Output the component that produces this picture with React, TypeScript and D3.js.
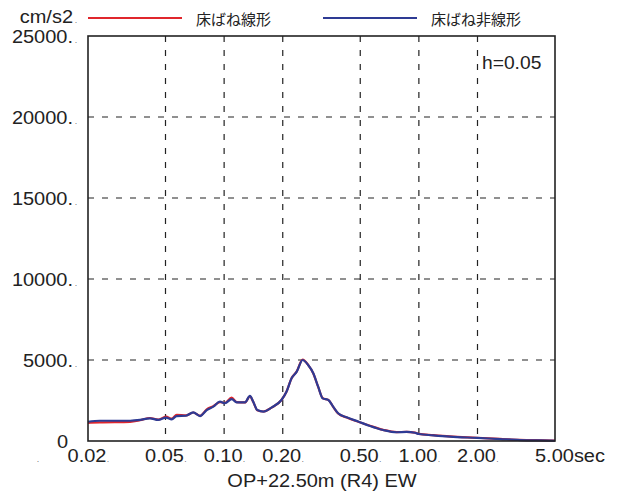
import React from "react";
import * as d3 from "d3";

const periods = [0.02, 0.023, 0.0329, 0.037, 0.0416, 0.0459, 0.0503, 0.0538, 0.0571, 0.0637, 0.0694, 0.0752, 0.0814, 0.088, 0.0952, 0.101, 0.1093, 0.116, 0.128, 0.1357, 0.141, 0.148, 0.159, 0.175, 0.197, 0.209, 0.222, 0.236, 0.253, 0.27, 0.287, 0.304, 0.321, 0.343, 0.363, 0.385, 0.426, 0.488, 0.561, 0.656, 0.769, 0.865, 0.954, 1.0, 1.185, 1.443, 1.98, 2.61, 3.3, 4.8, 5.0];
const nonlinearValues = [1190, 1250, 1250, 1300, 1400, 1300, 1440, 1340, 1540, 1560, 1770, 1540, 1910, 2120, 2430, 2330, 2590, 2390, 2390, 2780, 2430, 1910, 1810, 2060, 2530, 3040, 3870, 4280, 5000, 4690, 4180, 3350, 2630, 2530, 2120, 1710, 1460, 1200, 930, 680, 540, 560, 510, 430, 350, 270, 190, 120, 60, 20, 15];
const linearValues = [1120, 1150, 1180, 1280, 1420, 1320, 1500, 1380, 1620, 1580, 1760, 1560, 1950, 2150, 2400, 2350, 2680, 2400, 2380, 2760, 2420, 1900, 1820, 2060, 2530, 3040, 3880, 4300, 5020, 4700, 4170, 3340, 2640, 2540, 2110, 1700, 1450, 1190, 940, 690, 550, 560, 520, 440, 360, 280, 200, 130, 70, 30, 20];

const xTicks = [0.02, 0.05, 0.1, 0.2, 0.5, 1, 2, 5];
const xTickLabels = ["0.02", "0.05", "0.10", "0.20", "0.50", "1.00", "2.00", "5.00"];
const yTicks = [0, 5000, 10000, 15000, 20000, 25000];
const seriesNames = ["床ばね線形", "床ばね非線形"];
const seriesColors = ["#e0262c", "#2e3b94"];

const L = 88, R = 555, T = 36, B = 441;
const FONT = "'Liberation Sans', Arial, Helvetica, sans-serif";
const CJK = "'Noto Sans CJK JP', 'Noto Sans', sans-serif";
const FS = 18.5;
const SX = 1.08;

function Txt({ x, y, anchor = "start", size = FS, sx = SX, children }: any) {
  return (
    <text
      transform={`translate(${x},${y}) scale(${sx},1)`}
      fontFamily={FONT}
      fontSize={size}
      fill="#222"
      textAnchor={anchor}
    >
      {children}
    </text>
  );
}

export default function App() {
  const x = d3.scaleLog().domain([0.02, 5]).range([L, R]);
  const y = d3.scaleLinear().domain([0, 25000]).range([B, T]);
  const line = d3.line<number>()
    .x((_, i) => x(periods[i]))
    .y((d) => y(d))
    .curve(d3.curveMonotoneX);

  return (
    <svg width={624} height={495} style={{ position: "absolute", left: 0, top: 0, background: "#fff" }}>
      {xTicks.slice(1, -1).map((t) => (
        <line key={"vx" + t} x1={x(t)} x2={x(t)} y1={T} y2={B} stroke="#222" strokeWidth={1.2} strokeDasharray="6,8" />
      ))}
      {yTicks.slice(1, -1).map((t) => (
        <line key={"hy" + t} x1={L} x2={R} y1={y(t)} y2={y(t)} stroke="#222" strokeWidth={1.2} strokeDasharray="6,8" />
      ))}
      <path d={line(linearValues) || ""} fill="none" stroke={seriesColors[0]} strokeWidth={2.2} />
      <path d={line(nonlinearValues) || ""} fill="none" stroke={seriesColors[1]} strokeWidth={2.2} />
      <rect x={L} y={T} width={R - L} height={B - T} fill="none" stroke="#222" strokeWidth={1.6} />
      {yTicks.map((t) =>
        t === 0 ? (
          <Txt key={"yl" + t} x={68} y={y(t) + 7} anchor="end">0</Txt>
        ) : (
          <Txt key={"yl" + t} x={73} y={y(t) + 7} anchor="end">{String(t) + "."}</Txt>
        )
      )}
      {yTicks.slice(1).map((t) => (
        <text key={"yd" + t} x={75} y={y(t) + 7} fontFamily={FONT} fontSize={7} fill="#222">.</text>
      ))}
      <text x={37} y={462} fontFamily={FONT} fontSize={7} fill="#222">.</text>
      {xTicks.map((t, i) =>
        i === xTicks.length - 1 ? (
          <Txt key={"xl" + t} x={x(t) - 20} y={461.5}>{xTickLabels[i] + "sec"}</Txt>
        ) : (
          <Txt key={"xl" + t} x={x(t) - 1} y={461.5} anchor="middle">{xTickLabels[i]}</Txt>
        )
      )}
      {xTicks.slice(0, -1).map((t) => (
        <text key={"xd" + t} x={x(t) + 19} y={461.5} fontFamily={FONT} fontSize={7} fill="#222">.</text>
      ))}
      <Txt x={322} y={486.5} anchor="middle">OP+22.50m (R4) EW</Txt>
      <Txt x={73} y={22.5} anchor="end">cm/s2</Txt>
      <text x={75} y={22.5} fontFamily={FONT} fontSize={7} fill="#222">.</text>
      {seriesNames.map((n, i) => (
        <g key={n} transform={`translate(${88 + i * 235},0)`}>
          <line x1={0} x2={94} y1={18} y2={18} stroke={seriesColors[i]} strokeWidth={2} />
          <text x={108} y={24.5} fontFamily={CJK} fontSize={15} fill="#222">{n}</text>
        </g>
      ))}
      <Txt x={482} y={68.5} sx={1.04}>h=0.05</Txt>
    </svg>
  );
}
